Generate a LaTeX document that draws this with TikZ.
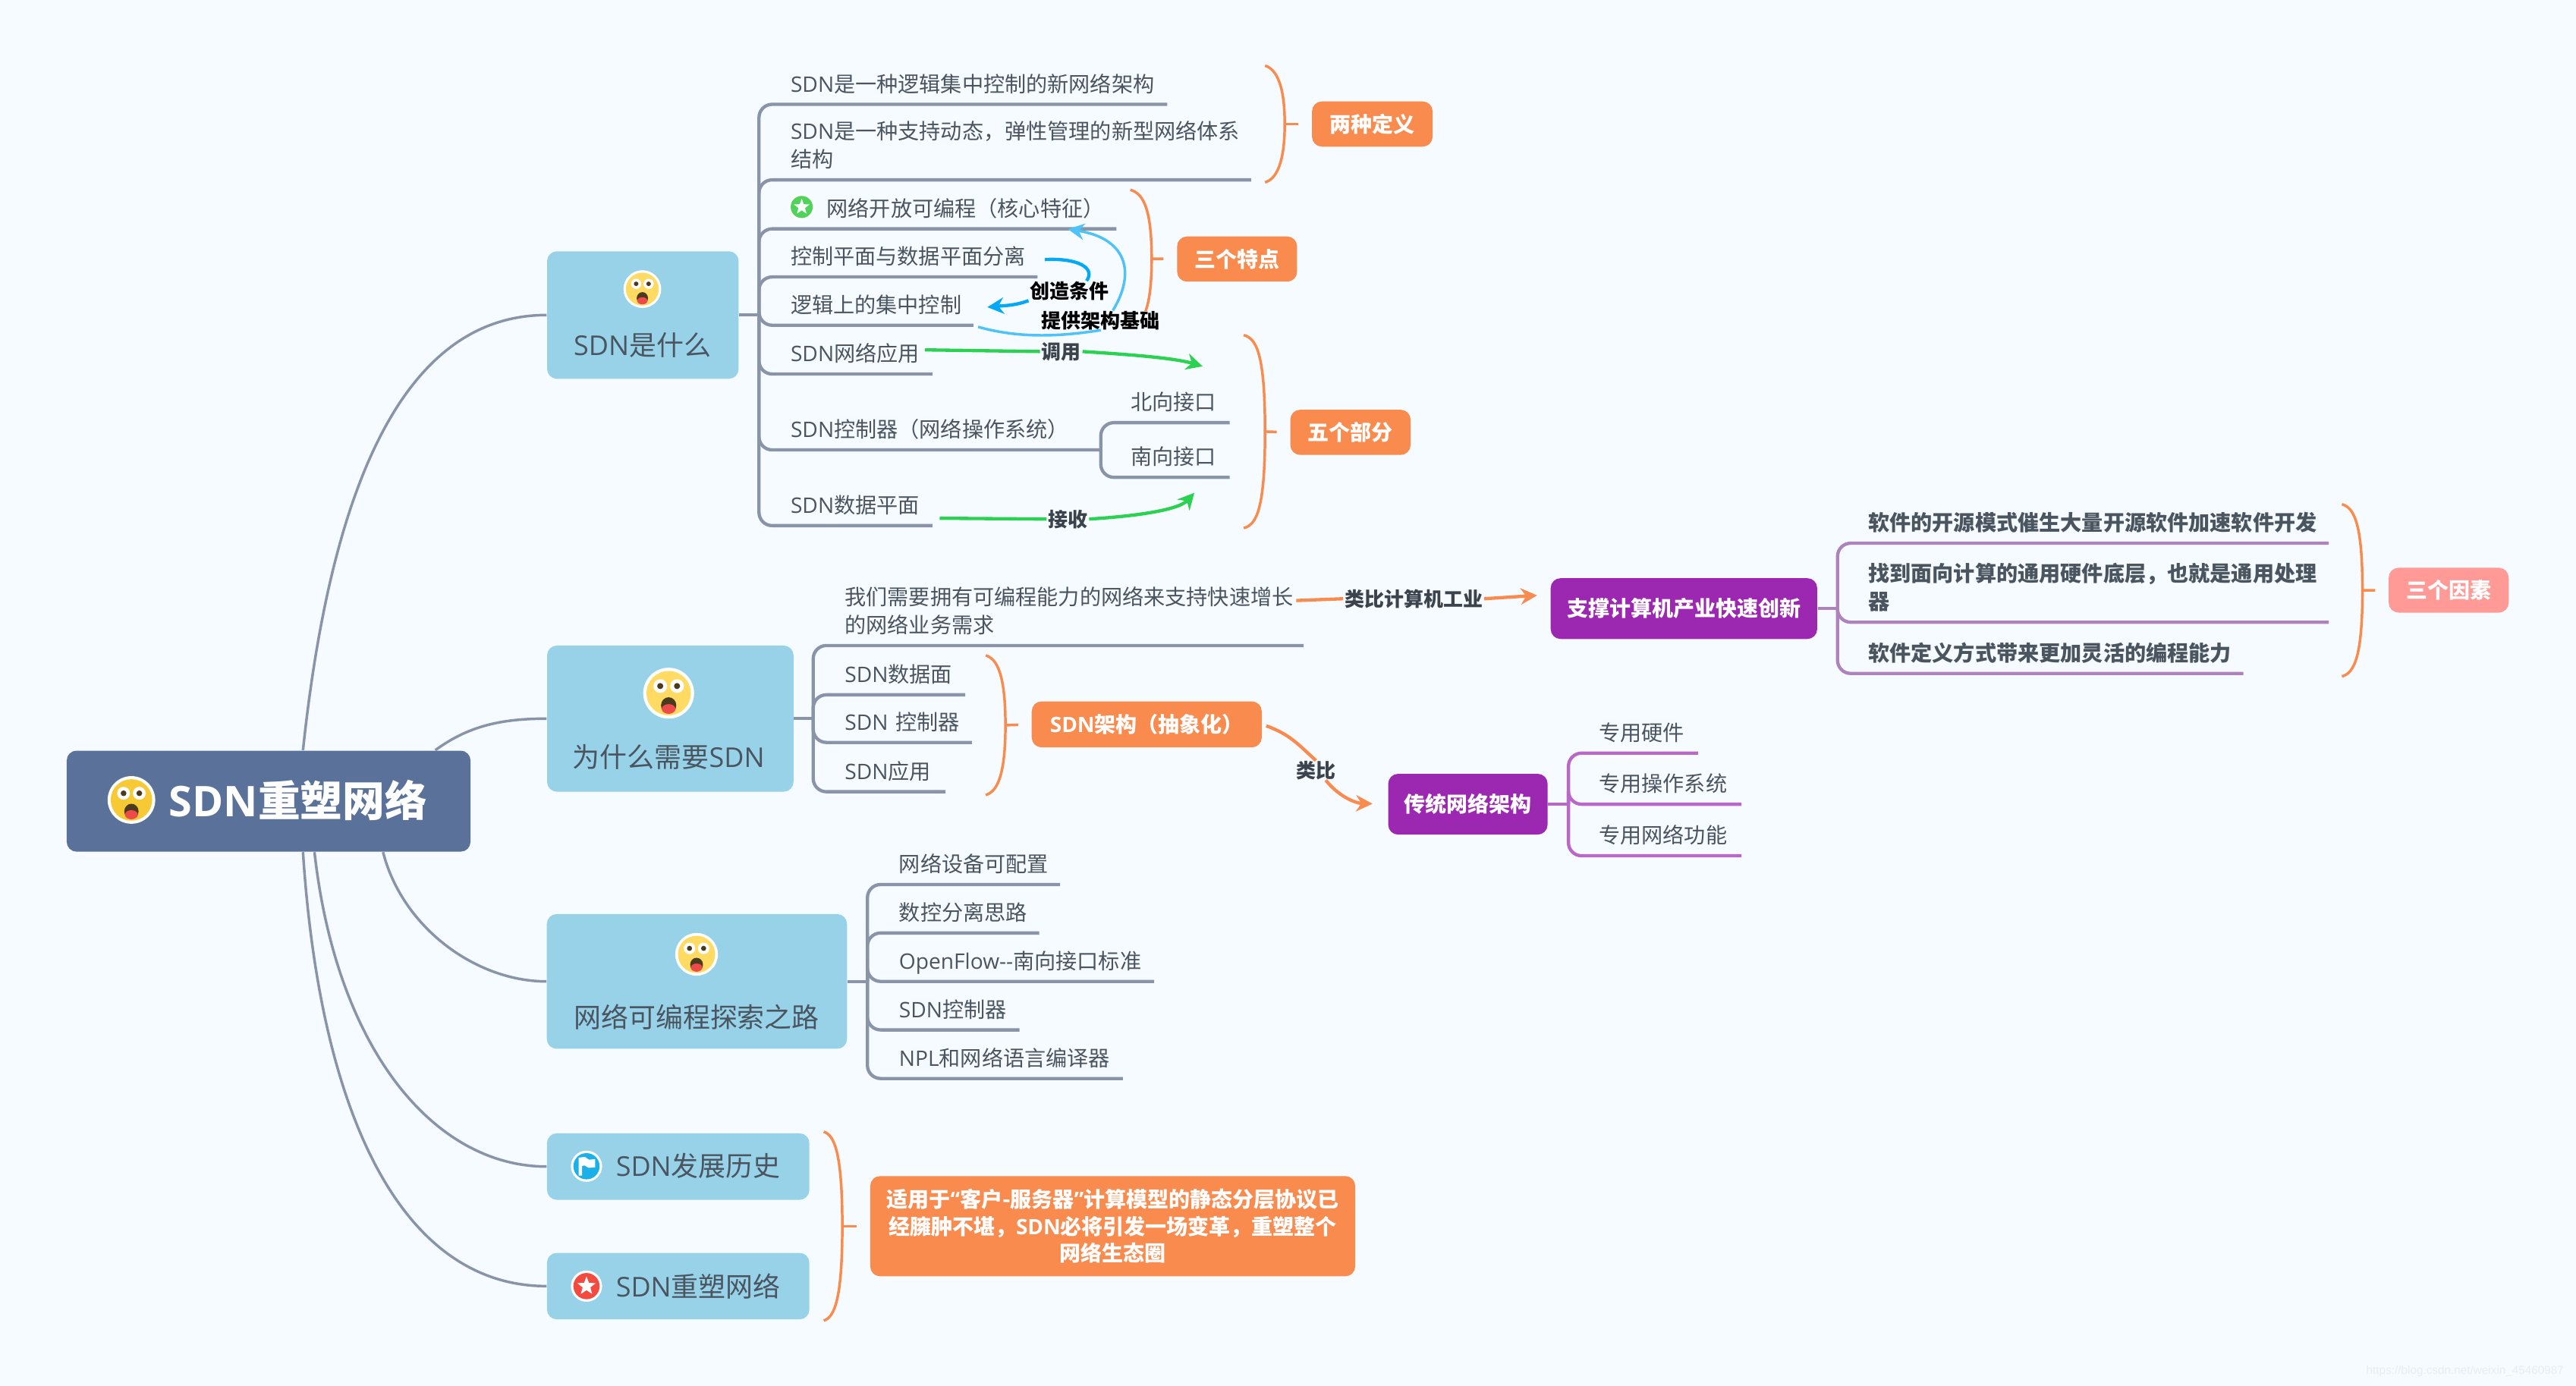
\documentclass[tikz,border=0pt]{standalone}
\usepackage{fontspec}
\setmainfont{Noto Sans CJK SC}
\newfontfamily\latinfont{Open Sans}
\newfontfamily\markfont{Liberation Sans}
\usepackage{tikz}
\usetikzlibrary{arrows.meta}

\definecolor{bgc}{HTML}{F6FBFF}
\definecolor{rootc}{HTML}{5A7199}
\definecolor{topicc}{HTML}{97D2E8}
\definecolor{inkc}{HTML}{4A5560}
\definecolor{greyc}{HTML}{8A94A8}
\definecolor{orangec}{HTML}{F98B4E}
\definecolor{pinkc}{HTML}{FF9A97}
\definecolor{violetc}{HTML}{9C27B0}
\definecolor{lilacc}{HTML}{AE82BB}
\definecolor{orchidc}{HTML}{BA68C8}
\definecolor{skyc}{HTML}{4FC3F7}
\definecolor{bluec}{HTML}{03A9F4}
\definecolor{greenc}{HTML}{2BD150}
\definecolor{markc}{HTML}{E8EDF2}
\definecolor{faceroot}{HTML}{F7C935}
\definecolor{facetopic}{HTML}{FFDB63}
\definecolor{eyec}{HTML}{4A3B1E}
\definecolor{tonguec}{HTML}{EF4A4A}
\definecolor{flagc}{HTML}{1AB0E8}
\definecolor{redstarc}{HTML}{F44A3F}
\definecolor{greenstarc}{HTML}{4FD35A}

\newdimen\pxu \pxu=0.75pt
\newcommand{\Lat}[1]{{\latinfont #1}}
\newcommand{\cm}{^^^^ff0c}
\newcommand{\lp}{^^^^ff08}
\newcommand{\rp}{^^^^ff09}

\tikzset{
  boxwh/.style 2 args={minimum width=#1\pxu,minimum height=#2\pxu,inner sep=0pt},
  rootbox/.style={fill=rootc,rounded corners=4.5pt},
  topicbox/.style={fill=topicc,rounded corners=4.5pt},
  tagbox/.style={fill=orangec,rounded corners=4.5pt,text=white,align=center,
    font=\fontsize{9.7}{12.4}\selectfont\bfseries},
  topictext/.style={text=inkc,inner sep=0pt,font=\fontsize{12.45}{15}\selectfont},
  item/.style={anchor=south west,inner xsep=7\pxu,inner ysep=4.5pt,text depth=1pt,
    align=left,text width=#1\pxu,text=inkc,font=\fontsize{9.75}{12.75}\selectfont},
  itembold/.style={item=#1,font=\fontsize{9.75}{12.75}\selectfont\bfseries},
  twolines/.style={text depth=13.75pt},
  relation/.style={fill=bgc,inner xsep=0.5pt,inner ysep=0pt,
    font=\fontsize{9}{11}\selectfont\bfseries},
  branch/.style={draw=greyc,line width=1.5pt,rounded corners=6pt},
  rootline/.style={draw=greyc,line width=1.2pt},
  lilacline/.style={draw=lilacc,line width=1.5pt,rounded corners=6pt},
  orchidline/.style={draw=orchidc,line width=1.5pt,rounded corners=6pt},
  orangeline/.style={draw=orangec,line width=1.2pt},
  tip/.style={-{Stealth[length=7.5pt,width=7.5pt]}},
  pics/wowface/.style={code={
    \fill[white] (0,0) circle[radius=1];
    \fill[#1] (0,0) circle[radius=0.87];
    \foreach \s in {-1,1}{
      \fill[white] (\s*0.33,0.28) circle[radius=0.27];
      \fill[eyec] (\s*0.33,0.28) circle[radius=0.12];
    }
    \fill[eyec] (0,-0.48) ellipse[x radius=0.3,y radius=0.32];
    \fill[tonguec] (0,-0.62) ellipse[x radius=0.27,y radius=0.19];
  }},
  pics/starbadge/.style={code={
    \fill[white] (0,0) circle[radius=1];
    \fill[#1] (0,0) circle[radius=0.84];
    \fill[white] (90:0.62) \foreach \a in {0,...,4}{ -- (54-\a*72:0.26) -- (18-\a*72:0.62)} -- cycle;
  }},
  pics/flagbadge/.style={code={
    \fill[white] (0,0) circle[radius=1];
    \fill[#1] (0,0) circle[radius=0.84];
    \fill[white] (-0.5,-0.6) -- (-0.5,0.55) -- (-0.1,0.6) -- (0.15,0.42) -- (0.55,0.45)
      -- (0.55,-0.08) -- (0.12,-0.1) -- (-0.12,0.05) -- (-0.28,0.02) -- (-0.28,-0.6) -- cycle;
  }}
}

% name, left x, spine x, top y, bottom y
\newcommand{\bracket}[5]{
  \draw[orangeline] (#2,#4) .. controls (#3-5,#4+2) and (#3,#4+12) .. (#3,{(#4+#5)/2}) coordinate (#1)
    .. controls (#3,#5-12) and (#3-5,#5-2) .. (#2,#5);
}

\begin{document}
\begin{tikzpicture}[x=0.75pt,y=0.75pt,yscale=-1]
\fill[bgc] (0,0) rectangle (1568,843.8);
\useasboundingbox (0,0) rectangle (1568,843.8);

%Brackets
\bracket{defS}{770}{782}{40}{111}
\bracket{featS}{688}{701}{115.6}{199.4}
\bracket{partS}{757}{770}{204}{321.5}
\bracket{factS}{1425.5}{1438}{307}{411.8}
\bracket{archS}{600}{612}{399}{484}
\bracket{endS}{501.4}{512.7}{689}{804}

% Root and topics
\node[rootbox,boxwh={245.8}{61.5}] (root) at (163.5,487.75) {};
\node[text=white,inner sep=0pt,font=\fontsize{19.3}{22}\selectfont\bfseries] (rootX) at (181.5,487) {\Lat{SDN}重塑网络};
\pic[scale=14.5] at (80,487) {wowface=faceroot};

\node[topicbox,boxwh={116.6}{77.6}] (what) at (391.3,191.8) {};
\node[topictext] (whatX) at (391,210) {\Lat{SDN}是什么};
\pic[scale=11.5] at (391,176) {wowface=facetopic};

\node[topicbox,boxwh={150}{89}] (why) at (408,437.5) {};
\node[topictext] (whyX) at (407,461) {为什么需要\Lat{SDN}};
\pic[scale=15.5] at (407,422) {wowface=facetopic};

\node[topicbox,boxwh={182.7}{82}] (road) at (424.2,597.5) {};
\node[topictext] (roadX) at (424,619) {网络可编程探索之路};
\pic[scale=13] at (424,581) {wowface=facetopic};

\node[topicbox,boxwh={159.7}{40.5}] (hist) at (412.8,710.2) {};
\node[topictext] (histX) at (425,710) {\Lat{SDN}发展历史};
\pic[scale=9.5] at (357,710) {flagbadge=flagc};

\node[topicbox,boxwh={159.7}{40.5}] (again) at (412.8,783) {};
\node[topictext] (againX) at (425,783) {\Lat{SDN}重塑网络};
\pic[scale=9.5] at (357,783) {starbadge=redstarc};

% Text Node
\node[item=222] (whatA) at (474,63.5) {\Lat{SDN}是一种逻辑集中控制的新网络架构};
\node[item=273,twolines] (whatB) at (474,109.5) {\Lat{SDN}是一种支持动态\cm 弹性管理的新型网络体系\\结构};
\node[item=191] (whatC) at (474,139.3) {\hspace*{22\pxu}网络开放可编程\lp 核心特征\rp};
\node[item=143] (whatD) at (474,168.6) {控制平面与数据平面分离};
\node[item=104] (whatE) at (474,198) {逻辑上的集中控制};
\node[item=79] (whatF) at (474,227.7) {\Lat{SDN}网络应用};
\node[item=181.5] (whatG) at (474,273.9) {\Lat{SDN}控制器\lp 网络操作系统\rp};
\node[item=79] (whatH) at (474,320) {\Lat{SDN}数据平面};
\node[item=53] (north) at (681,257.3) {北向接口};
\node[item=53] (south) at (681,290.6) {南向接口};
\pic[scale=8] at (488,126) {starbadge=greenstarc};

\node[item=272,twolines] (whyA) at (507,393) {我们需要拥有可编程能力的网络来支持快速增长\\的网络业务需求};
\node[item=66] (whyB) at (507,423) {\Lat{SDN}数据面};
\node[item=70] (whyC) at (507,452) {\Lat{SDN} 控制器};
\node[item=54] (whyD) at (507,482) {\Lat{SDN}应用};

\node[item=90.7] (roadA) at (540,538.5) {网络设备可配置};
\node[item=78] (roadB) at (540,568) {数控分离思路};
\node[item=148] (roadC) at (540,597.5) {\Lat{OpenFlow--}南向接口标准};
\node[item=66] (roadD) at (540,627) {\Lat{SDN}控制器};
\node[item=129] (roadE) at (540,656.6) {\Lat{NPL}和网络语言编译器};

\node[itembold=273] (factA) at (1130,330.7) {软件的开源模式催生大量开源软件加速软件开发};
\node[itembold=273,twolines] (factB) at (1130,378.8) {找到面向计算的通用硬件底层\cm 也就是通用处理\\器};
\node[itembold=221] (factC) at (1130,410) {软件定义方式带来更加灵活的编程能力};

\node[item=53] (tradA) at (966,458.5) {专用硬件};
\node[item=79.5] (tradB) at (966,489.6) {专用操作系统};
\node[item=79.5] (tradC) at (966,521) {专用网络功能};

% Boxes
\node[tagbox,boxwh={73.4}{27.5}] (defL) at (835.3,75.5) {两种定义};
\node[tagbox,boxwh={73}{27.5}] (featL) at (753,157.7) {三个特点};
\node[tagbox,boxwh={73.2}{27.5}] (partL) at (822,263.2) {五个部分};
\node[tagbox,boxwh={73}{27.3},fill=pinkc] (factL) at (1490.5,359.3) {三个因素};
\node[tagbox,boxwh={140}{28}] (arch) at (698,441) {\Lat{SDN}架构\lp 抽象化\rp};
\node[tagbox,boxwh={295.2}{61}] (endL) at (677.3,746.5) {适用于\Lat{“}客户-服务器\Lat{”}计算模型的静态分层协议已\\经臃肿不堪\cm\Lat{SDN}必将引发一场变革\cm 重塑整个\\网络生态圈};
\node[tagbox,boxwh={162.2}{37},fill=violetc] (supp) at (1025,370.5) {支撑计算机产业快速创新};
\node[tagbox,boxwh={97}{37},fill=violetc] (trad) at (893.5,489.6) {传统网络架构};

% Text Node
\node[relation,text=black] (cond) at (651,177) {创造条件};
\node[relation,text=black] (prov) at (670,195) {提供架构基础};
\node[relation,text=inkc!80!black] (call) at (646,214) {调用};
\node[relation,text=inkc!80!black] (recv) at (650,316) {接收};
\node[relation,text=inkc!80!black] (anaA) at (860.5,364.5) {类比计算机工业};
\node[relation,text=inkc!80!black] (anaB) at (801,469) {类比};
\node[text=markc,inner sep=0pt,font=\markfont\fontsize{5.3}{6}\selectfont] (mark) at (1500.5,835) {https://blog.csdn.net/weixin\_45460987};

\coordinate (whatT) at (462,191.8);
\coordinate (whyT) at (495,437.5);
\coordinate (roadT) at (528,597.5);
\coordinate (suppT) at (1118.5,370.5);
\coordinate (tradT) at (954.7,489.6);
\coordinate (sepS) at (636,158);
\coordinate (logE) at (601,187);
\coordinate (logS) at (595.4,199);
\coordinate (openE) at (650,139.5);
\coordinate (appS) at (563,213);
\coordinate (appE) at (732,223);
\coordinate (dataS) at (572,315.5);
\coordinate (dataE) at (727,300);
\coordinate (whyS) at (789,365.6);

%Curve Lines
\draw[rootline] (root.56) .. controls (200,310) and (240,191.8) .. (what.west);
\draw[rootline] (root.17) .. controls (285,442) and (305,437.5) .. (why.west);
\draw[rootline] (root.-24) .. controls (245,565) and (290,597.5) .. (road.west);
\draw[rootline] (root.-48) .. controls (205,640) and (265,710.2) .. (hist.west);
\draw[rootline] (root.-56) .. controls (195,680) and (245,783) .. (again.west);

%Straight Lines
\draw[branch] (what.east) -- (whatT);
\foreach \n in {whatA,whatB,whatC,whatD,whatE,whatF,whatG,whatH}
  \draw[branch] (whatT) |- (\n.south east);
\foreach \n in {north,south}
  \draw[branch] (whatG.south east) |- (\n.south east);

\draw[branch] (why.east) -- (whyT);
\foreach \n in {whyA,whyB,whyC,whyD}
  \draw[branch] (whyT) |- (\n.south east);

\draw[branch] (road.east) -- (roadT);
\foreach \n in {roadA,roadB,roadC,roadD,roadE}
  \draw[branch] (roadT) |- (\n.south east);

\draw[lilacline] (supp.east) -- (suppT);
\foreach \n in {factA,factB,factC}
  \draw[lilacline] (suppT) |- (\n.south east);

\draw[orchidline] (trad.east) -- (tradT);
\foreach \n in {tradA,tradB,tradC}
  \draw[orchidline] (tradT) |- (\n.south east);

\draw[orangeline,shorten >=6pt] (defS) -- (defL.west);
\draw[orangeline,shorten >=6pt] (featS) -- (featL.west);
\draw[orangeline,shorten >=6pt] (partS) -- (partL.west);
\draw[orangeline,shorten >=6pt] (factS) -- (factL.west);
\draw[orangeline,shorten >=6pt] (archS) -- (arch.west);
\draw[orangeline,shorten >=6pt] (endS) -- (endL.west);

%Curve Lines
\draw[bluec,line width=1.5pt] (sepS) .. controls (656,157) and (667,163) .. (cond.30);
\draw[bluec,line width=1.5pt,tip] (cond.south west) .. controls (618,186) and (612,186) .. (logE);
\draw[skyc,line width=1.2pt] (logS) .. controls (620,206) and (645,205) .. (prov.south);
\draw[skyc,line width=1.2pt,tip] (prov.39) .. controls (692,165) and (685,145) .. (openE);

\draw[greenc,line width=1.5pt] (appS) -- (call.west);
\draw[greenc,line width=1.5pt,tip] (call.east) .. controls (690,216) and (715,218) .. (appE);
\draw[greenc,line width=1.5pt] (dataS) -- (recv.west);
\draw[greenc,line width=1.5pt,tip] (recv.east) .. controls (695,314) and (718,310) .. (dataE);

\draw[orangeline,line width=1.5pt] (whyS) -- (anaA.west);
\draw[orangeline,line width=1.5pt,tip,shorten >=6pt] (anaA.east) -- (supp.174);
\draw[orangeline,line width=1.5pt,shorten <=2pt] (arch.east) .. controls (785,447) and (790,453) .. (anaB.north);
\draw[orangeline,line width=1.5pt,tip,shorten >=7pt] (anaB.-45) .. controls (815,485) and (825,489) .. (trad.west);

\end{tikzpicture}
\end{document}
